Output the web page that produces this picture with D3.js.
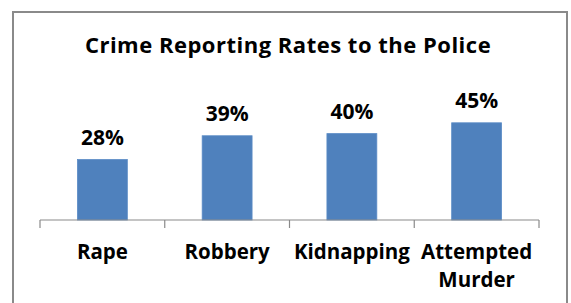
<!DOCTYPE html>
<html>
<head>
<meta charset="utf-8">
<script src="https://cdn.jsdelivr.net/npm/d3@7"></script>
<style>
    body { margin: 0; background: #fff; }
    text { font-family: "Open Sans", Lato, sans-serif; font-weight: bold; fill: #000; }
</style>
</head>
<body>
<div id="root"></div>
<script>
// chart data
var categories = ["Rape", "Robbery", "Kidnapping", "Attempted Murder"];
var rates = [28, 39, 40, 45];
var valueLabels = ["28%", "39%", "40%", "45%"];
var title = "Crime Reporting Rates to the Police";

var width = 571,
    height = 303;

// plot area
var plot = { left: 40, right: 539, base: 220, top: 112 };

var svg = d3
    .select("#root")
    .append("svg")
    .attr("width", width)
    .attr("height", height);

svg.append("rect")
    .attr("width", width)
    .attr("height", height)
    .style("fill", "#fff");

// outer frame, bottom edge runs off the picture
svg.append("rect")
    .attr("x", 13)
    .attr("y", 12)
    .attr("width", 554)
    .attr("height", 310)
    .style("fill", "none")
    .style("stroke", "#8a8a8a")
    .style("stroke-width", 2);

svg.append("text")
    .attr("x", 288)
    .attr("y", 53)
    .attr("text-anchor", "middle")
    .style("font-size", "22px")
    .style("letter-spacing", "0.5px")
    .text(title);

var x = d3
    .scaleBand()
    .domain(categories)
    .range([plot.left, plot.right])
    .paddingInner(0.6)
    .paddingOuter(0.3);

var y = d3.scaleLinear().domain([0, 50]).range([plot.base, plot.top]);

// bars
svg.append("g")
    .selectAll("rect")
    .data(categories)
    .enter()
    .append("rect")
    .attr("x", (d) => x(d))
    .attr("y", (d, i) => y(rates[i]))
    .attr("width", x.bandwidth())
    .attr("height", (d, i) => y(0) - y(rates[i]))
    .style("fill", "#4f81bd")
    .style("stroke", "#5b8cc6")
    .style("stroke-width", 0.8);

// value labels
svg.append("g")
    .selectAll("text")
    .data(categories)
    .enter()
    .append("text")
    .attr("x", (d) => x(d) + x.bandwidth() / 2)
    .attr("y", (d, i) => y(rates[i]) - 15)
    .attr("text-anchor", "middle")
    .style("font-size", "21px")
    .text((d, i) => valueLabels[i]);

// x axis: line plus ticks at the band edges
var edges = categories.map((d) => x(d) - x.step() * x.paddingInner() / 2);
edges.push(plot.right);

var axis = svg.append("g").style("stroke", "#8a8a8a").style("stroke-width", 1.2);
axis.append("line")
    .attr("x1", plot.left)
    .attr("x2", plot.right)
    .attr("y1", y(0))
    .attr("y2", y(0));
axis.selectAll(".tick")
    .data(edges)
    .enter()
    .append("line")
    .attr("class", "tick")
    .attr("x1", (d) => d)
    .attr("x2", (d) => d)
    .attr("y1", y(0))
    .attr("y2", y(0) + 8);

// category labels, Attempted Murder wraps onto two lines
var labels = svg.append("g")
    .selectAll("text")
    .data(categories)
    .enter()
    .append("text")
    .attr("x", (d) => x(d) + x.bandwidth() / 2)
    .attr("y", 259)
    .attr("text-anchor", "middle")
    .style("font-size", "20.5px");

labels.each(function (d) {
    var words = d === "Attempted Murder" ? d.split(" ") : [d];
    var t = d3.select(this);
    words.forEach((w, i) => {
        t.append("tspan")
            .attr("x", x(d) + x.bandwidth() / 2)
            .attr("dy", i === 0 ? 0 : 28)
            .text(w);
    });
});
</script>
</body>
</html>
